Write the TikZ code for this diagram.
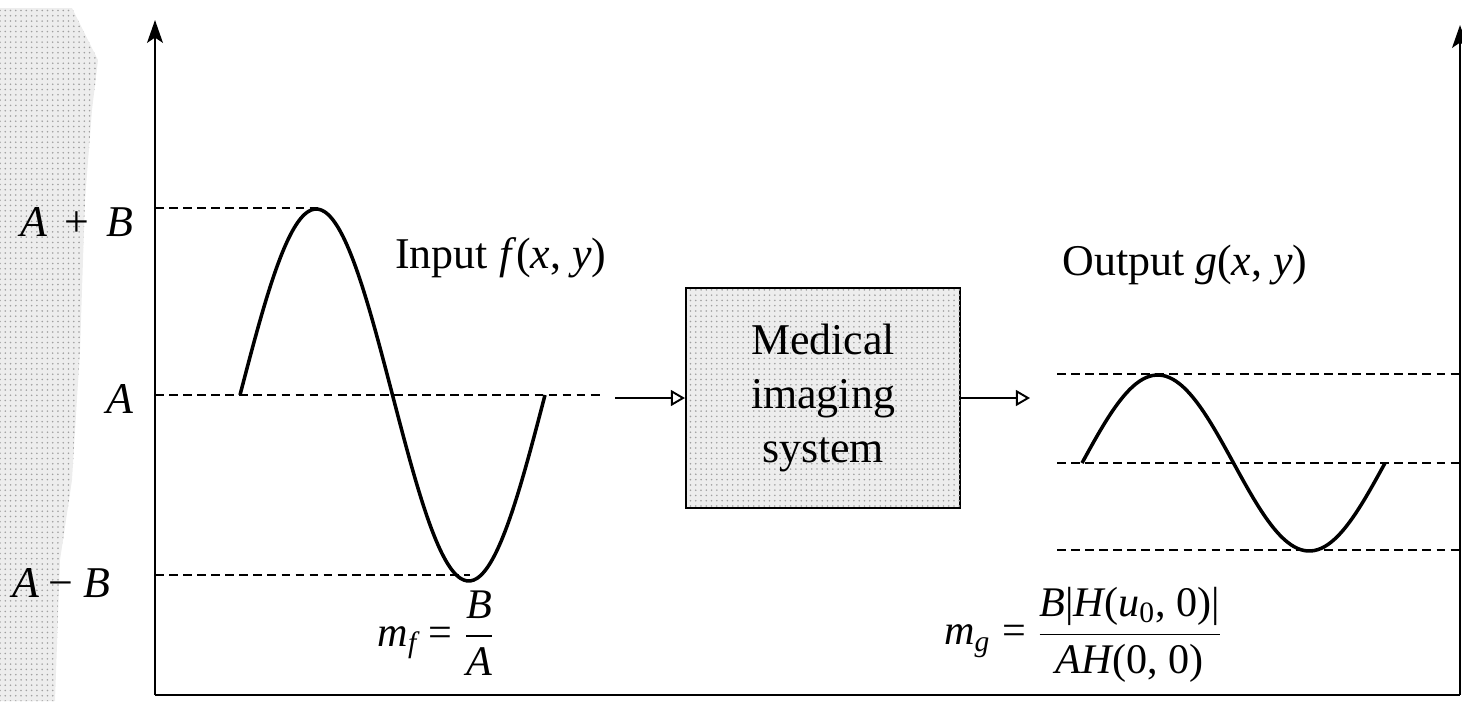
\RequirePackage{fix-cm}
\documentclass[tikz,border=0pt]{standalone}
\usepackage{amsmath}
\usepackage{fontspec}
\setmainfont{Liberation Serif}
\usetikzlibrary{arrows.meta,patterns}
\tikzset{
  axis/.style={line width=1.2pt, -{Stealth[length=13pt, width=9pt, inset=3pt]}},
  guide/.style={line width=1pt, dash pattern=on 5pt off 3pt},
  wave/.style={line width=2pt},
  flow/.style={line width=1.1pt, -{Triangle[open, length=8pt, width=9pt]}},
  lbl/.style={font=\fontsize{25}{30}\selectfont, inner sep=0pt},
  frm/.style={font=\fontsize{24}{28}\selectfont, inner sep=0pt},
  stipple/.style={fill=gray!14, postaction={pattern=dots, pattern color=gray!75}},
  sysbox/.style={draw, line width=1.2pt, stipple, minimum width=5.48cm,
    minimum height=4.4cm, align=center, font=\fontsize{25}{31}\selectfont},
}
\newcommand{\vi}[1]{\textit{#1}}
\newcommand{\tu}[1]{\textup{#1}}
\newcommand{\teq}{\mathrel{\textup{=}}}
\newcommand{\tplus}{\mathbin{\,\textup{+}\,}}
\newcommand{\tminus}{\mathbin{\textup{\char"2212}}}
\begin{document}
\begin{tikzpicture}[x=0.02cm, y=-0.02cm]
\useasboundingbox (0,0) rectangle (1462,701);
% stippled band on the left
\path[stipple] (8,8) -- (72,8) -- (98,60) -- (92,110) -- (85,200) -- (80,350)
  -- (72,480) -- (60,560) -- (55,701) -- (0,701) -- (0,8) -- cycle;
% axes
\coordinate (O) at (155,695);
\coordinate (ytop) at (155,20);
\coordinate (BR) at (1460,695);
\coordinate (ytopR) at (1460,25);
\draw[axis] (O) -- (ytop);
\draw[axis] (BR) -- (ytopR);
\draw[line width=1.2pt] (O) -- (BR);
% guide lines, input
\coordinate (apb0) at (155,208); \coordinate (apb1) at (318,208);
\coordinate (a0) at (155,395);   \coordinate (a1) at (600,395);
\coordinate (amb0) at (155,575); \coordinate (amb1) at (470,575);
\draw[guide] (apb0) -- (apb1);
\draw[guide] (a0) -- (a1);
\draw[guide] (amb0) -- (amb1);
% guide lines, output
\coordinate (t0) at (1057,374); \coordinate (t1) at (1460,374);
\coordinate (m0) at (1057,463); \coordinate (m1) at (1460,463);
\coordinate (b0) at (1057,550); \coordinate (b1) at (1460,550);
\draw[guide] (t0) -- (t1);
\draw[guide] (m0) -- (m1);
\draw[guide] (b0) -- (b1);
% waves
\draw[wave] plot[domain=0:360, samples=91, smooth] ({240+0.84722*\x}, {395-186*sin(\x)});
\draw[wave] plot[domain=0:360, samples=91, smooth] ({1082+0.84167*\x}, {463-88*sin(\x)});
% system box and arrows
\node[sysbox] (sys) at (823,398) {Medical\\imaging\\system};
\coordinate (inS) at (615,398);
\coordinate (outE) at (1030,398);
\draw[flow] (inS) -- (sys.west |- inS);
\draw[flow] (sys.east |- outE) -- (outE);
% labels
\node[lbl, anchor=base west] (lapb) at (20,236) {$\vi{A} \tplus \vi{B}$};
\node[lbl, anchor=base west] (la) at (106,413) {$\vi{A}$};
\node[lbl, anchor=base west] (lamb) at (12,597) {$\vi{A} \tminus \vi{B}$};
\node[lbl, anchor=base west] (lin) at (395,268) {Input \vi{f}(\vi{x}, \vi{y})};
\node[lbl, anchor=base west] (lout) at (1062,275) {Output \vi{g}(\vi{x}, \vi{y})};
\node[frm] (mf) at (436,633) {$\vi{m}_{\vi{f}} \teq \dfrac{\vi{B}}{\vi{A}}$};
\node[frm] (mg) at (1083,635) {$\vi{m}_{\vi{g}} \teq \dfrac{\vi{B}\tu{|}\vi{H}\tu{(}\vi{u}_{\tu{0}}\tu{, 0)|}}{\vi{AH}\tu{(0, 0)}}$};
\end{tikzpicture}
\end{document}
